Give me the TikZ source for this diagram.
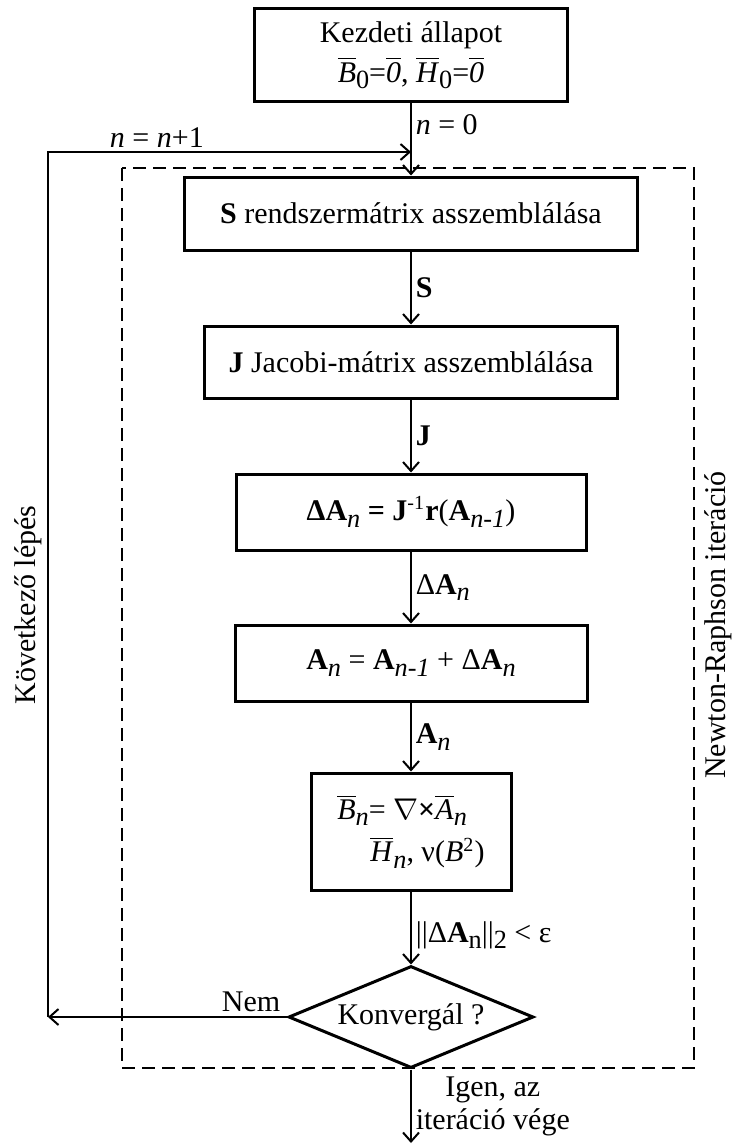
\documentclass[tikz,border=0pt]{standalone}
\usepackage{fontspec}
\setmainfont{Liberation Serif}
\usepackage{tikz}
\usetikzlibrary{positioning, arrows.meta, shapes.geometric}

\newcommand{\ovl}[1]{$\overline{\mbox{\textit{#1}}}$}
\newcommand{\sub}[1]{\raisebox{-2.6pt}{\fontsize{10.5}{11}\selectfont #1}}

\tikzset{
  box/.style={draw=black, line width=1.2pt, align=center, inner sep=2pt},
  decision/.style={diamond, aspect=2.4, draw=black, line width=1.2pt, minimum width=98pt, minimum height=40.8pt, inner sep=1pt},
  flow/.style={line width=0.8pt, -{Straight Barb[length=3.6pt,width=6.4pt]}},
  frame/.style={line width=1pt, dash pattern=on 5pt off 3pt},
  lbl/.style={inner sep=1.5pt}
}

\begin{document}
\begin{tikzpicture}[x=0.4pt, y=-0.4pt, font=\fontsize{12}{14}\selectfont]
\useasboundingbox (0,0) rectangle (732,1146);

% Newton-Raphson frame
\draw[frame] (122,168) rectangle (694,1068);

\node[box, minimum width=125.2pt, minimum height=36.8pt] (init) at (411,55)
  {Kezdeti állapot\\[2pt]\ovl{B}\sub{0}=\ovl{0}, \ovl{H}\sub{0}=\ovl{0}};
\node[box, minimum width=180.8pt, minimum height=29.2pt] (sbox) at (411,213.5)
  {\textbf{S} rendszermátrix asszemblálása};
\node[box, minimum width=164.8pt, minimum height=28.8pt] (jbox) at (411,362)
  {\textbf{J} Jacobi-mátrix asszemblálása};
\node[box, minimum width=140pt, minimum height=30.4pt] (dabox) at (411,512)
  {\textbf{ΔA}\sub{\textit{n}} \textbf{=} \textbf{J}\textsuperscript{-1}\textbf{r}(\textbf{A}\sub{\textit{n-1}})};
\node[box, minimum width=140.8pt, minimum height=30.4pt] (abox) at (411,663)
  {\textbf{A}\sub{\textit{n}} = \textbf{A}\sub{\textit{n-1}} + Δ\textbf{A}\sub{\textit{n}}};
\node[box, minimum width=80pt, minimum height=46.8pt, align=left] (bbox) at (411,831.5)
  {\ovl{B}\sub{\textit{n}}= $\nabla$\textbf{×}\ovl{A}\sub{\textit{n}}\\[3pt]\hspace*{1.1em}\ovl{H}\sub{\textit{n}}, ν(\textit{B}\textsuperscript{2})};
\node[decision] (conv) at (411,1017) {Konvergál ?};

\coordinate (done) at (411,1143);
\coordinate (back) at (48,1017);
\coordinate (turn) at (48,152);
\coordinate (join) at (411,152);

\draw[flow] (init) -- node[lbl, pos=0.3, right] {\textit{n} = 0} (sbox);
\draw[flow] (sbox) -- node[lbl, right] {\textbf{S}} (jbox);
\draw[flow] (jbox) -- node[lbl, right] {\textbf{J}} (dabox);
\draw[flow] (dabox) -- node[lbl, right] {Δ\textbf{A}\sub{\textit{n}}} (abox);
\draw[flow] (abox) -- node[lbl, right] {\textbf{A}\sub{\textit{n}}} (bbox);
\draw[flow] (bbox) -- node[lbl, pos=0.6, right] {||Δ\textbf{A}\sub{n}||\sub{2} < ε} (conv);
\draw[flow] (conv) -- node[lbl, right, align=center, font=\fontsize{12}{13}\selectfont] {Igen, az\\iteráció vége} (done);

% next step loop
\draw[flow] (conv.west) -- node[lbl, pos=0.15, above] {Nem} (back);
\draw[flow] (back) -- (turn) -- node[lbl, pos=0.3, above] {\textit{n} = \textit{n}+1} (join);

\node[rotate=90] (nrlabel) at (718,625) {Newton-Raphson iteráció};
\node[rotate=90] (steplabel) at (28,605) {Következő lépés};

\end{tikzpicture}
\end{document}
